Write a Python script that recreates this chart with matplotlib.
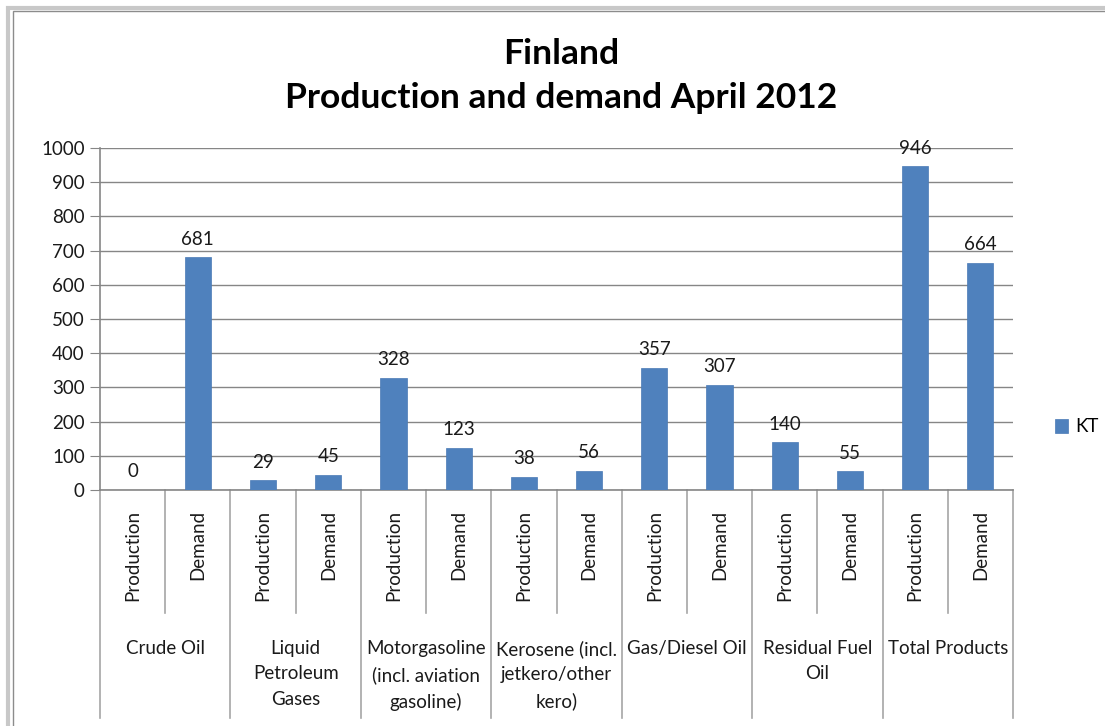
import matplotlib.pyplot as plt
from matplotlib.patches import Rectangle

groups = ['Crude Oil', 'Liquid\nPetroleum\nGases', 'Motorgasoline\n(incl. aviation\ngasoline)',
          'Kerosene (incl.\njetkero/other\nkero)', 'Gas/Diesel Oil', 'Residual Fuel\nOil', 'Total Products']
subs = ['Production', 'Demand']
values = [0, 681, 29, 45, 328, 123, 38, 56, 357, 307, 140, 55, 946, 664]

plt.rcParams['font.family'] = ['Lato', 'DejaVu Sans']
W, H = 1105, 726
fig = plt.figure(figsize=(W / 100, H / 100), dpi=100)

# chart frame (light band + darker inner line)
fig.patches.append(Rectangle((8 / W, -0.1), 1.2, (H - 8) / H + 0.1, transform=fig.transFigure,
                             fill=False, ec='#c8c8c8', lw=3))
fig.patches.append(Rectangle((13 / W, -0.1), 1.2, (H - 11) / H + 0.1, transform=fig.transFigure,
                             fill=False, ec='#8c8c8c', lw=1))

left, right, top, bottom = 100, 1013, 148, 490
ax = fig.add_axes([left / W, 1 - bottom / H, (right - left) / W, (bottom - top) / H])

blue = '#4f81bd'
fs = 13.5
x = list(range(len(values)))
ax.bar(x, values, width=0.4, color=blue, edgecolor='#4a7ab5', lw=0.5, zorder=3, label='KT')
for xi, v in zip(x, values):
    ax.text(xi, v + 28, str(v), ha='center', va='bottom', fontsize=fs, color='#1a1a1a')

ax.set_xlim(-0.5, len(values) - 0.5)
ax.set_ylim(0, 1000)
ax.set_yticks(range(0, 1001, 100))
ax.tick_params(axis='y', length=7, color='#868686', labelsize=fs, pad=4, labelcolor='#1a1a1a')
ax.set_xticks([])
ax.grid(axis='y', color='#868686', lw=1)
ax.set_axisbelow(True)
for s in ['top', 'right']:
    ax.spines[s].set_visible(False)
for s in ['left', 'bottom']:
    ax.spines[s].set_color('#868686')
    ax.spines[s].set_linewidth(1.2)

# multi-level category axis
h = bottom - top
tr = ax.get_xaxis_transform()
for i in range(len(values) + 1):
    depth = 228 if i % 2 == 0 else 123
    ax.plot([i - 0.5, i - 0.5], [0, -depth / h], transform=tr, color='#a6a6a6', lw=1.2, clip_on=False)
for i in range(len(values)):
    ax.text(i, -20 / h, subs[i % 2], transform=tr, rotation=90, ha='center', va='top',
            fontsize=fs, color='#1a1a1a')
for g, name in enumerate(groups):
    ax.text(2 * g + 0.5, -150 / h, name, transform=tr, ha='center', va='top',
            fontsize=fs, color='#1a1a1a', linespacing=1.6)

fig.text(561 / W, 1 - 76 / H, 'Finland\nProduction and demand April 2012', ha='center', va='center',
         fontsize=25.5, fontweight='bold', linespacing=1.5)

ax.legend(loc='center left', bbox_to_anchor=(1038 / W, 1 - 427 / H), bbox_transform=fig.transFigure,
          frameon=False, fontsize=fs, handlelength=0.7, handleheight=0.7, handletextpad=0.4)

fig.savefig('out.png', dpi=100, facecolor='white')
